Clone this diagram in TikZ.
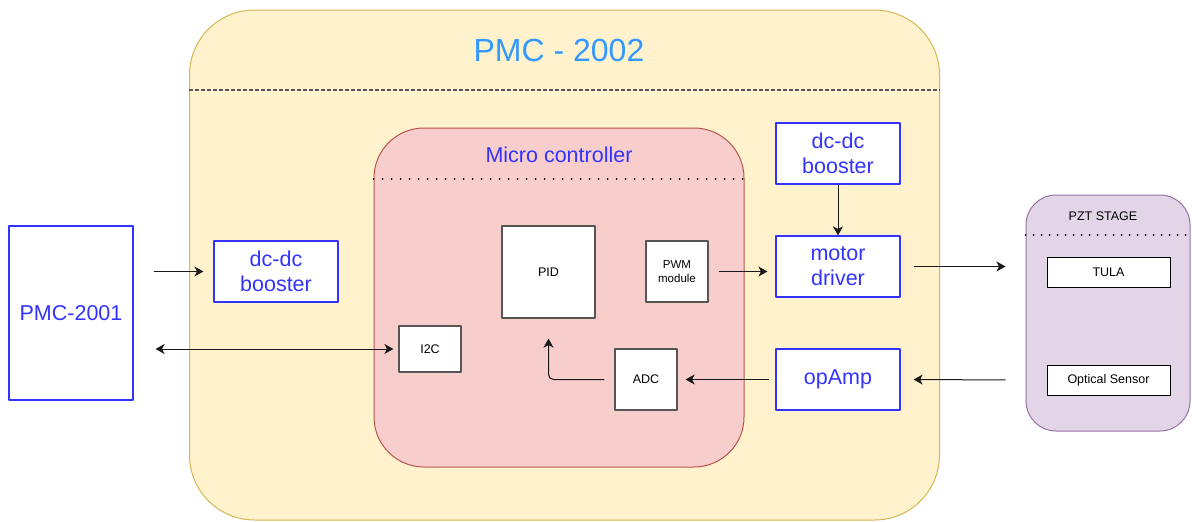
\documentclass[tikz,border=0pt]{standalone}
\usepackage{fontspec}
\setmainfont{Liberation Sans}
\usetikzlibrary{arrows.meta,positioning}
\definecolor{vangnen}{HTML}{FFF2CC}
\definecolor{vangvien}{HTML}{D6B656}
\definecolor{donen}{HTML}{F8CECC}
\definecolor{dovien}{HTML}{B85450}
\definecolor{timnen}{HTML}{E1D5E7}
\definecolor{timvien}{HTML}{9673A6}
\definecolor{xanhchu}{HTML}{3333FF}
\definecolor{xanhtieude}{HTML}{3399FF}
\definecolor{xamvien}{HTML}{555555}
\begin{document}
\begin{tikzpicture}[x=1pt, y=-1pt, line join = round, >={Stealth[length=9pt,width=10pt,inset=2.5pt]},
		khoi/.style={draw=xanhchu, line width=1.2pt, fill=white, inner sep=0pt, align=center,
			minimum width=124pt, minimum height=61pt, text=xanhchu, font=\fontsize{21.5}{25}\selectfont},
		hopnho/.style={draw=xamvien, line width=1.2pt, fill=white, inner sep=0pt, align=center,
			font=\fontsize{12.5}{14}\selectfont},
		mui/.style={->, line width=1pt, draw=black!90}]
			%Khung nền và tỉ lệ
			\useasboundingbox (0,0) rectangle (1192,522);
			%Khối PMC - 2002
			\node[draw=vangvien, fill=vangnen, line width=1pt, rounded corners=65pt, inner sep=0pt,
				minimum width=750pt, minimum height=510pt] (pmc2) at (564.5,265) {};
			\node[text=xanhtieude, font=\fontsize{32}{36}\selectfont] (tieude) at (559,50) {PMC - 2002};
			\draw[xamvien, line width=1.5pt, dash pattern=on 4pt off 2pt] (pmc2.west |- 0,90) -- (pmc2.east |- 0,90);
			%Vi điều khiển
			\node[draw=dovien, fill=donen, line width=1pt, rounded corners=50pt, inner sep=0pt,
				minimum width=370pt, minimum height=339pt] (vdk) at (559,297.5) {};
			\node[text=xanhchu, font=\fontsize{21.5}{25}\selectfont] (tenvdk) at (559,155) {Micro controller};
			\draw[line width=2pt, dash pattern=on 0pt off 9pt, line cap=round] (vdk.west |- 0,179) -- (vdk.east |- 0,179);
			\node[hopnho, minimum width=93pt, minimum height=92pt] (pid) at (548.5,272) {PID};
			\node[hopnho, minimum width=62pt, minimum height=61pt, font=\fontsize{11.5}{13.5}\selectfont] (pwm) at (677,271.5) {PWM\\module};
			\node[hopnho, minimum width=62pt, minimum height=46pt] (i2c) at (430,349) {I2C};
			\node[hopnho, minimum width=62pt, minimum height=61pt] (adc) at (646,379.5) {ADC};
			%Các khối bên ngoài
			\node[khoi, minimum height=174pt] (pmc1) at (71,313) {PMC-2001};
			\node[khoi] (tangapL) at (276,271.5) {dc-dc\\booster};
			\node[khoi] (tangapR) at (838,153.5) {dc-dc\\booster};
			\node[khoi] (driver) at (838,266.5) {motor\\driver};
			\node[khoi] (opamp) at (838,379.5) {opAmp};
			%PZT STAGE
			\node[draw=timvien, fill=timnen, line width=1pt, rounded corners=30pt, inner sep=0pt,
				minimum width=164pt, minimum height=236pt] (pzt) at (1108,313) {};
			\node[font=\fontsize{12.5}{14}\selectfont] (tenpzt) at (1103,216) {PZT STAGE};
			\draw[line width=2pt, dash pattern=on 0pt off 8pt, line cap=round] (pzt.west |- 0,235) -- (pzt.east |- 0,235);
			\node[hopnho, draw=black, line width=1pt, minimum width=123pt, minimum height=30pt] (tula) at (1108.5,272) {TULA};
			\node[hopnho, draw=black, line width=1pt, minimum width=123pt, minimum height=30pt] (cambien) at (1108.5,380) {Optical Sensor};
			%Các mũi tên
			\draw[mui, shorten <=20pt, shorten >=10pt] (pmc1.east |- tangapL) -- (tangapL.west);
			\draw[mui, <->, shorten <=22pt, shorten >=5pt] (pmc1.east |- i2c) -- (i2c.west);
			\draw[mui, shorten <=10pt, shorten >=8pt] (pwm.east) -- (driver.west |- pwm.east);
			\draw[mui] (tangapR.south) -- (driver.north);
			\draw[mui, shorten <=13pt, shorten >=20pt] (driver.east) -- (pzt.west |- driver.east);
			\draw[mui, shorten <=20pt, shorten >=13pt] (pzt.west |- cambien) -- (opamp.east);
			\draw[mui, shorten <=6pt, shorten >=8pt] (opamp.west) -- (adc.east);
			\draw[mui, rounded corners=5pt, shorten <=10pt, shorten >=20pt] (adc.west) -- (pid.south |- adc.west) -- (pid.south);
		\end{tikzpicture}
\end{document}
